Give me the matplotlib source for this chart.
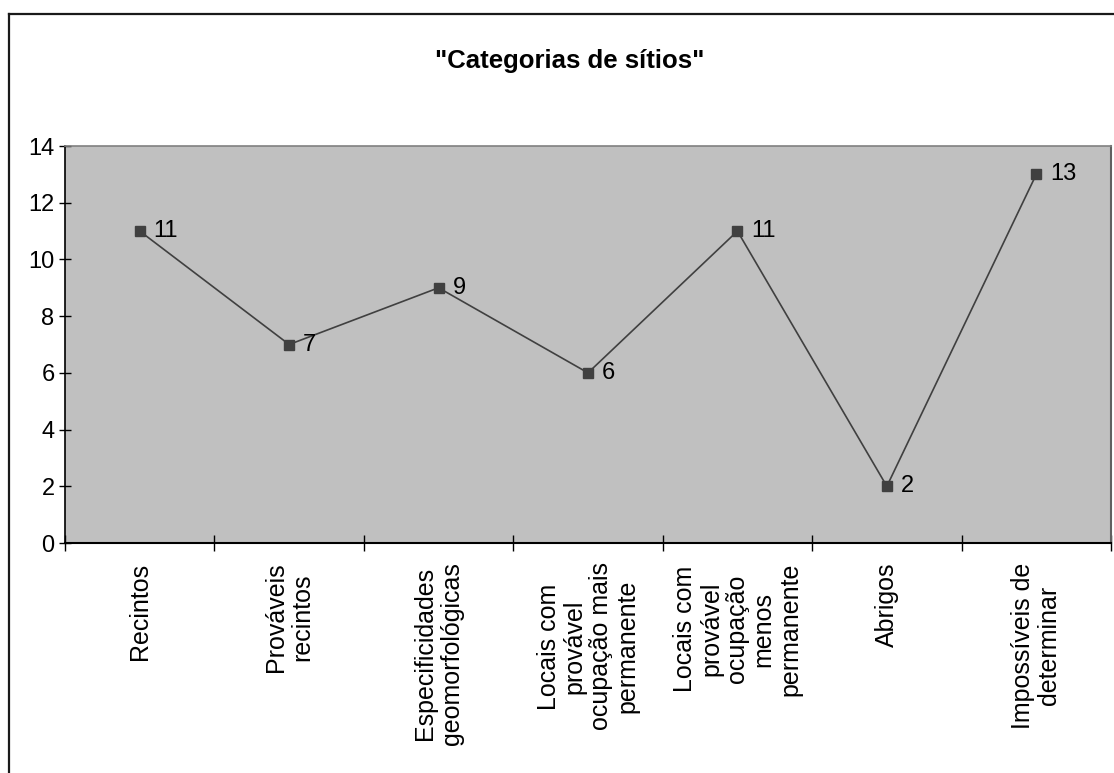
import matplotlib
matplotlib.use("Agg")
import matplotlib.pyplot as plt
from matplotlib.lines import Line2D
import numpy as np

categories = [
    "Recintos",
    "Prováveis\nrecintos",
    "Especificidades\ngeomorfológicas",
    "Locais com\nprovável\nocupação mais\npermanente",
    "Locais com\nprovável\nocupação\nmenos\npermanente",
    "Abrigos",
    "Impossíveis de\ndeterminar",
]
counts = [11, 7, 9, 6, 11, 2, 13]
y_ticks = [0, 2, 4, 6, 8, 10, 12, 14]
title = '"Categorias de sítios"'

sans = ["Liberation Sans", "DejaVu Sans"]

fig = plt.figure(figsize=(11.14, 7.73), dpi=100)
fig.patch.set_facecolor("white")

# Outer chart frame (left and top edges visible)
W, H = 1114, 773
fx0, fy0 = 9 / W, 1 - 14 / H
fig.add_artist(Line2D([fx0, fx0], [fy0, -0.1], transform=fig.transFigure,
                      color="#1a1a1a", lw=1.6))
fig.add_artist(Line2D([fx0, 1.1], [fy0, fy0], transform=fig.transFigure,
                      color="#1a1a1a", lw=1.6))

ax = fig.add_axes([65 / W, 1 - 543 / H, (1111 - 65) / W, (543 - 146) / H])
ax.set_facecolor("#c0c0c0")

x = np.arange(len(categories))
ax.plot(x, counts, color="#404040", lw=1.2, marker="s", markersize=7,
        markerfacecolor="#404040", markeredgecolor="#404040", zorder=3)

for xi, v in zip(x, counts):
    ax.annotate(str(v), (xi, v), xytext=(10, 0), textcoords="offset points",
                ha="left", va="center", fontsize=17, family=sans,
                color="black")

ax.set_xlim(-0.5, len(categories) - 0.5)
ax.set_ylim(0, 14)

ax.set_yticks(y_ticks)
ax.set_yticklabels([str(t) for t in y_ticks], fontsize=17, family=sans)
ax.tick_params(axis="y", direction="inout", length=9, width=1, pad=3,
               color="black")

ax.set_xticks(x)
ax.set_xticklabels(categories, rotation=90, fontsize=18, family=sans,
                   va="top", ha="center", multialignment="center",
                   linespacing=1.12)
ax.tick_params(axis="x", which="major", length=0, pad=14)
ax.set_xticks(np.arange(-0.5, len(categories)), minor=True)
ax.tick_params(axis="x", which="minor", direction="inout", length=12,
               width=1, color="black")

ax.spines["left"].set_color("black")
ax.spines["bottom"].set_color("black")
ax.spines["left"].set_linewidth(1.2)
ax.spines["bottom"].set_linewidth(1.5)
ax.spines["top"].set_color("#808080")
ax.spines["right"].set_color("#606060")
ax.spines["top"].set_linewidth(1.2)
ax.spines["right"].set_linewidth(1.5)

fig.text(570 / W, 1 - 68 / H, title, ha="center", va="baseline",
         fontsize=18.5, fontweight="bold", family=sans, color="black")

fig.savefig("out.png", dpi=100, facecolor="white")
